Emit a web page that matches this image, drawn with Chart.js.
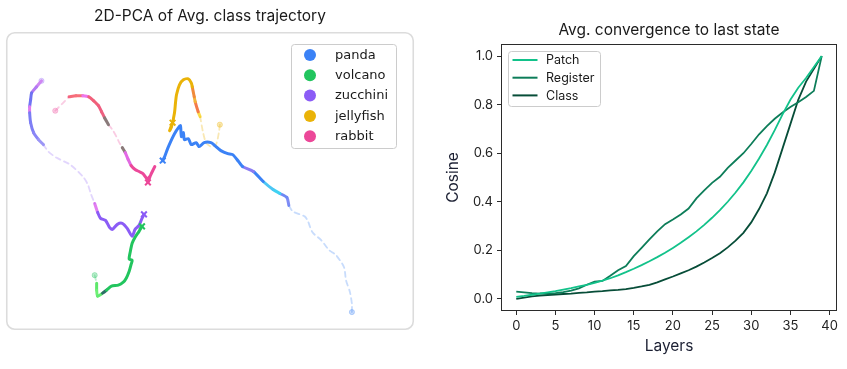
<!DOCTYPE html>
<html>
<head>
<meta charset="utf-8">
<script src="https://cdn.jsdelivr.net/npm/chart.js@4.4.1/dist/chart.umd.min.js"></script>
<style>
  html, body { margin: 0; padding: 0; background: #fff; }
  body { width: 847px; height: 369px; position: relative; overflow: hidden; }
  #pca { position: absolute; left: 0; top: 0; }
  #conv { position: absolute; left: 430px; top: 0; }
</style>
</head>
<body>
<canvas id="pca" width="420" height="336"></canvas>
<canvas id="conv" width="417" height="369"></canvas>
<script>
// ---------- left panel: 2D-PCA trajectories (PC1, PC2), start -> end ----------
const classNames = ["panda", "volcano", "zucchini", "jellyfish", "rabbit"];

const pandaPath = [
  [15.3,-11.3],[15.3,-10.5],[15.1,-9.3],[14.7,-8.1],[14.5,-6.8],[13.7,-5.6],[13.0,-5.1],
  [12.2,-4.1],[11.3,-3.3],[10.8,-2.1],[10.5,-1.7],[9.3,-1.2],[8.9,-0.6],[8.7,0.2],
  [8.0,0.6],[7.3,1.0],[6.3,1.8],[5.3,2.8],[4.2,3.3],[3.8,3.8],[3.2,4.5],[2.7,4.6],
  [2.0,4.9],[1.4,5.4],[1.0,5.7],[0.3,5.7],[-0.2,5.3],[-0.5,5.7],[-1.0,5.5],[-1.3,6.1],
  [-1.7,6.0],[-1.8,6.7],[-2.0,6.3],[-2.1,7.4],[-2.3,7.2],[-2.7,6.6],[-3.0,6.0],
  [-3.4,5.1],[-3.7,4.3],[-3.9,3.9]
];
const volcanoPath = [
  [-10.8,-7.6],[-10.7,-8.0],[-10.6,-8.4],[-10.6,-9.1],[-10.5,-9.7],[-10.0,-9.4],
  [-9.6,-9.1],[-9.1,-8.7],[-8.4,-8.6],[-7.9,-8.3],[-7.6,-7.9],[-7.3,-7.2],[-7.1,-6.5],
  [-7.0,-6.1],[-7.3,-6.0],[-7.2,-5.3],[-7.0,-4.4],[-6.7,-3.8],[-6.3,-3.2],[-6.0,-2.7]
];
const zucchiniPath = [
  [-16.2,11.9],[-16.7,11.3],[-17.2,10.7],[-17.3,10.0],[-17.4,9.3],[-17.4,8.7],[-17.3,7.7],
  [-17.0,6.7],[-16.5,6.0],[-16.0,5.5],[-15.5,4.8],[-14.7,4.2],[-13.3,3.5],[-12.0,2.3],
  [-11.5,1.5],[-11.2,0.6],[-10.8,-0.4],[-10.5,-1.3],[-10.2,-1.9],[-9.7,-2.1],[-9.3,-2.8],
  [-9.0,-3.0],[-8.5,-2.5],[-8.0,-2.4],[-7.5,-2.9],[-7.0,-3.7],[-6.7,-3.0],[-6.3,-2.6],
  [-6.0,-1.9],[-5.8,-1.5]
];
const jellyfishPath = [
  [1.9,7.5],[1.8,6.7],[1.5,5.5],[1.0,5.3],[0.5,5.7],[0.2,6.7],[-0.1,8.3],[-0.3,8.8],
  [-0.6,9.8],[-0.7,10.3],[-0.9,11.3],[-1.0,11.7],[-1.3,12.1],[-1.8,12.0],[-2.2,11.5],
  [-2.5,10.5],[-2.6,9.7],[-2.7,8.7],[-3.0,7.3],[-3.2,6.9],[-2.9,7.7]
];
const rabbitPath = [
  [-14.8,8.9],[-14.1,9.6],[-13.4,10.3],[-12.7,10.4],[-12.0,10.4],[-11.4,10.3],[-10.9,9.9],
  [-10.4,9.4],[-10.1,8.8],[-9.8,8.2],[-9.4,7.5],[-9.0,7.0],[-8.6,6.3],[-8.3,5.7],[-8.0,5.2],
  [-7.7,4.7],[-7.4,4.0],[-7.1,3.4],[-6.7,3.0],[-6.3,2.8],[-5.9,2.6],[-5.5,2.1],[-5.2,2.3],
  [-4.9,2.9],[-4.7,3.3],[-5.1,2.5],[-5.4,1.7]
];
const classPaths = [pandaPath, volcanoPath, zucchiniPath, jellyfishPath, rabbitPath];

// ---------- right panel: cosine to last state per layer ----------
const layers = [0,1,2,3,4,5,6,7,8,9,10,11,12,13,14,15,16,17,18,19,
                20,21,22,23,24,25,26,27,28,29,30,31,32,33,34,35,36,37,38,39];
const patchCos = [0.008,0.012,0.017,0.022,0.027,0.032,0.038,0.044,0.051,0.058,
                  0.066,0.075,0.085,0.097,0.110,0.124,0.139,0.155,0.172,0.190,
                  0.210,0.231,0.254,0.278,0.305,0.334,0.366,0.400,0.438,0.480,
                  0.527,0.578,0.634,0.695,0.760,0.820,0.870,0.910,0.955,1.000];
const registerCos = [0.030,0.027,0.024,0.022,0.022,0.024,0.028,0.034,0.043,0.058,
                     0.071,0.074,0.095,0.118,0.135,0.176,0.210,0.245,0.278,0.308,
                     0.327,0.348,0.372,0.414,0.447,0.478,0.503,0.540,0.570,0.600,
                     0.638,0.678,0.712,0.742,0.768,0.790,0.810,0.832,0.857,1.000];
const classCos = [0.000,0.005,0.010,0.013,0.016,0.018,0.020,0.022,0.025,0.027,
                  0.030,0.032,0.035,0.037,0.040,0.045,0.051,0.058,0.068,0.080,
                  0.092,0.105,0.118,0.133,0.150,0.168,0.188,0.212,0.240,0.272,
                  0.315,0.370,0.435,0.520,0.620,0.720,0.820,0.895,0.948,1.000];
const xTicks = [0, 5, 10, 15, 20, 25, 30, 35, 40];
const yTicks = [0.0, 0.2, 0.4, 0.6, 0.8, 1.0];

// ---------- styles ----------
const classStyles = [
  { color: "#3b82f6", fade: "rgba(59,130,246,0.28)", dashed: [0, 11],
    accents: { 12: "#7f8cf5", 13: "#6f88f4", 14: "#3fd2f2", 15: "#4cc6f4", 17: "#8a7cf3" } },
  { color: "#22c55e", fade: "rgba(34,197,94,0.3)", dashed: [0, 1],
    accents: { 2: "#5ee86b", 3: "#6ef075", 4: "#62ea70", 5: "#2e6e66" } },
  { color: "#8b5cf6", fade: "rgba(139,92,246,0.25)", dashed: [9, 15],
    accents: { 0: "#cf86f2", 1: "#b27af2", 2: "#6f72f2", 3: "#7074f3", 4: "#e07cf0",
               5: "#7a7cf4", 6: "#7f7ff5", 7: "#8a86f6", 8: "#9c96f6", 16: "#e27ef0" } },
  { color: "#eab308", fade: "rgba(234,179,8,0.3)", dashed: [0, 5],
    accents: { 6: "#fbdc4a", 7: "#f47a4a", 8: "#f3b43a", 9: "#f08a3a" } },
  { color: "#ec4899", fade: "rgba(236,72,153,0.28)", dashed: [0, 1], dashed2: [10, 13],
    accents: { 2: "#f66b7a", 3: "#f7707a", 4: "#ee76ee", 5: "#f2607a", 6: "#f0607a",
               7: "#ef5d80", 8: "#ee6080", 9: "#8a7a7a", 14: "#8a7a7a", 15: "#e468e6", 16: "#e06ae0" } }
];

function isDashed(st, i) {
  const inRange = r => r && i >= r[0] && i <= r[1];
  return inRange(st.dashed) || inRange(st.dashed2);
}

function buildTrajectory(name, path, st) {
  const pts = path.map(([x, y]) => ({ x, y }));
  const sets = [];
  let a = 0;
  const nSeg = pts.length - 1;
  while (a < nSeg) {
    const dash = isDashed(st, a);
    let b = a;
    while (b + 1 < nSeg && isDashed(st, b + 1) === dash) b++;
    const off = a;
    sets.push({
      type: "line",
      label: name,
      data: pts.slice(a, b + 2),
      borderColor: dash ? st.fade : st.color,
      borderWidth: dash ? 1.8 : 3,
      borderDash: dash ? [5, 4] : [],
      borderCapStyle: "round",
      borderJoinStyle: "round",
      pointRadius: 0,
      tension: 0.25,
      segment: dash ? {} : { borderColor: ctx => st.accents[off + ctx.p0DataIndex] }
    });
    a = b + 1;
  }
  // start marker (circle) and end marker (x)
  sets.push({ type: "scatter", label: name, data: [pts[0]], pointStyle: "circle",
    pointRadius: 2.6, backgroundColor: st.fade, borderColor: st.fade, borderWidth: 1 });
  sets.push({ type: "scatter", label: name, data: [pts[pts.length - 1]], pointStyle: "crossRot",
    pointRadius: 4, borderColor: st.color, borderWidth: 2 });
  return sets;
}

const roundRect = (ctx, x, y, w, h, r) => {
  ctx.beginPath();
  ctx.moveTo(x + r, y);
  ctx.arcTo(x + w, y, x + w, y + h, r);
  ctx.arcTo(x + w, y + h, x, y + h, r);
  ctx.arcTo(x, y + h, x, y, r);
  ctx.arcTo(x, y, x + w, y, r);
  ctx.closePath();
};

// legend drawn inside the plot area, matplotlib style
const insetLegend = {
  id: "insetLegend",
  afterDraw(chart, args, o) {
    if (!o.items) return;
    const { ctx, chartArea } = chart;
    const x = o.fromRight != null ? chartArea.right - o.fromRight - o.width : chartArea.left + o.fromLeft;
    const y = chartArea.top + o.fromTop;
    ctx.save();
    roundRect(ctx, x + 0.5, y + 0.5, o.width, o.height, 3);
    ctx.fillStyle = "rgba(255,255,255,0.85)";
    ctx.fill();
    ctx.strokeStyle = "#cccccc";
    ctx.lineWidth = 1;
    ctx.stroke();
    ctx.font = o.font;
    ctx.textBaseline = "middle";
    o.items.forEach((it, i) => {
      const cy = y + o.firstRow + i * o.rowGap;
      if (o.marker === "dot") {
        ctx.beginPath();
        ctx.arc(x + o.markX, cy, 6, 0, Math.PI * 2);
        ctx.fillStyle = it.color;
        ctx.fill();
      } else {
        ctx.beginPath();
        ctx.moveTo(x + o.markX - 12.5, cy);
        ctx.lineTo(x + o.markX + 12.5, cy);
        ctx.strokeStyle = it.color;
        ctx.lineWidth = 2;
        ctx.stroke();
      }
      ctx.fillStyle = "#1a1a1a";
      ctx.fillText(it.label, x + o.textX, cy + 0.5);
    });
    ctx.restore();
  }
};

const plotBox = {
  id: "plotBox",
  beforeDatasetsDraw(chart, args, o) {
    const { ctx, chartArea: a } = chart;
    ctx.save();
    if (o.rounded) {
      roundRect(ctx, a.left + 0.75, a.top + 0.75, a.right - a.left - 1.5, a.bottom - a.top - 1.5, 8);
      ctx.strokeStyle = "#dcdcdc";
      ctx.lineWidth = 1.6;
      ctx.stroke();
    } else {
      ctx.strokeStyle = "#2b2b2b";
      ctx.lineWidth = 1;
      ctx.strokeRect(a.left + 0.5, a.top + 0.5, a.right - a.left - 1, a.bottom - a.top - 1);
    }
    ctx.restore();
  }
};

Chart.defaults.font.family = "Inter, 'Noto Sans', sans-serif";
Chart.defaults.color = "#222";

// ---------- left chart ----------
const pcaSets = [];
classNames.forEach((n, i) => pcaSets.push(...buildTrajectory(n, classPaths[i], classStyles[i])));

new Chart(document.getElementById("pca"), {
  type: "line",
  data: { datasets: pcaSets },
  options: {
    responsive: false,
    animation: false,
    events: [],
    layout: { padding: { left: 2, right: 4, top: 0, bottom: 5 } },
    scales: {
      x: { type: "linear", display: false, min: -19.8, max: 21.6 },
      y: { type: "linear", display: false, min: -13.1, max: 16.8 }
    },
    plugins: {
      legend: { display: false },
      tooltip: { enabled: false },
      title: { display: true, fullSize: false, text: "2D-PCA of Avg. class trajectory",
        font: { size: 15.5, weight: "normal" }, color: "#1a1a1a", padding: { top: 7.2, bottom: 6.2 } },
      plotBox: { rounded: true },
      insetLegend: {
        items: classNames.map((n, i) => ({ label: n, color: classStyles[i].color })),
        marker: "dot", fromRight: 18, fromTop: 12, width: 105, height: 104,
        firstRow: 11, rowGap: 20.3, markX: 19, textX: 44,
        font: "13px 'DejaVu Sans', sans-serif"
      }
    }
  },
  plugins: [plotBox, insetLegend]
});

// ---------- right chart ----------
const toPts = vals => layers.map((l, i) => ({ x: l, y: vals[i] }));
const seriesColors = { Patch: "#12c28a", Register: "#0d7d59", Class: "#074d38" };

new Chart(document.getElementById("conv"), {
  type: "line",
  data: {
    datasets: [
      { label: "Patch", data: toPts(patchCos), borderColor: seriesColors.Patch, borderWidth: 1.8, pointRadius: 0 },
      { label: "Register", data: toPts(registerCos), borderColor: seriesColors.Register, borderWidth: 1.8, pointRadius: 0 },
      { label: "Class", data: toPts(classCos), borderColor: seriesColors.Class, borderWidth: 1.8, pointRadius: 0 }
    ]
  },
  options: {
    responsive: false,
    animation: false,
    events: [],
    layout: { padding: { left: 0, right: 10, top: 0, bottom: 0 } },
    scales: {
      x: {
        type: "linear", min: -1.95, max: 40.95,
        afterBuildTicks: s => { s.ticks = xTicks.map(v => ({ value: v })); },
        afterFit: s => { s.height = 58; },
        ticks: { font: { size: 13 }, color: "#222", padding: 3, maxRotation: 0, callback: v => String(v) },
        grid: { drawOnChartArea: false, tickLength: 4, color: "#2b2b2b" },
        border: { display: false },
        title: { display: true, text: "Layers", font: { size: 15.5 }, color: "#1c2033", padding: { top: 0, bottom: 13 } }
      },
      y: {
        type: "linear", min: -0.05, max: 1.05,
        afterBuildTicks: s => { s.ticks = yTicks.map(v => ({ value: v })); },
        afterFit: s => { s.width = 71; },
        ticks: { font: { size: 13 }, color: "#222", padding: 4, callback: v => v.toFixed(1) },
        grid: { drawOnChartArea: false, tickLength: 4, color: "#2b2b2b" },
        border: { display: false },
        title: { display: true, text: "Cosine", font: { size: 15.5 }, color: "#1c2033", padding: { top: 14, bottom: 0 } }
      }
    },
    plugins: {
      legend: { display: false },
      tooltip: { enabled: false },
      title: { display: true, fullSize: false, text: "Avg. convergence to last state",
        font: { size: 15.5, weight: "normal" }, color: "#1a1a1a", padding: { top: 20.7, bottom: 4.7 } },
      plotBox: { rounded: false },
      insetLegend: {
        items: ["Patch", "Register", "Class"].map(n => ({ label: n, color: seriesColors[n] })),
        marker: "line", fromLeft: 7, fromTop: 7, width: 92, height: 55,
        firstRow: 9, rowGap: 17.7, markX: 17, textX: 38,
        font: "12.5px Inter, sans-serif"
      }
    }
  },
  plugins: [plotBox, insetLegend]
});
</script>
</body>
</html>
